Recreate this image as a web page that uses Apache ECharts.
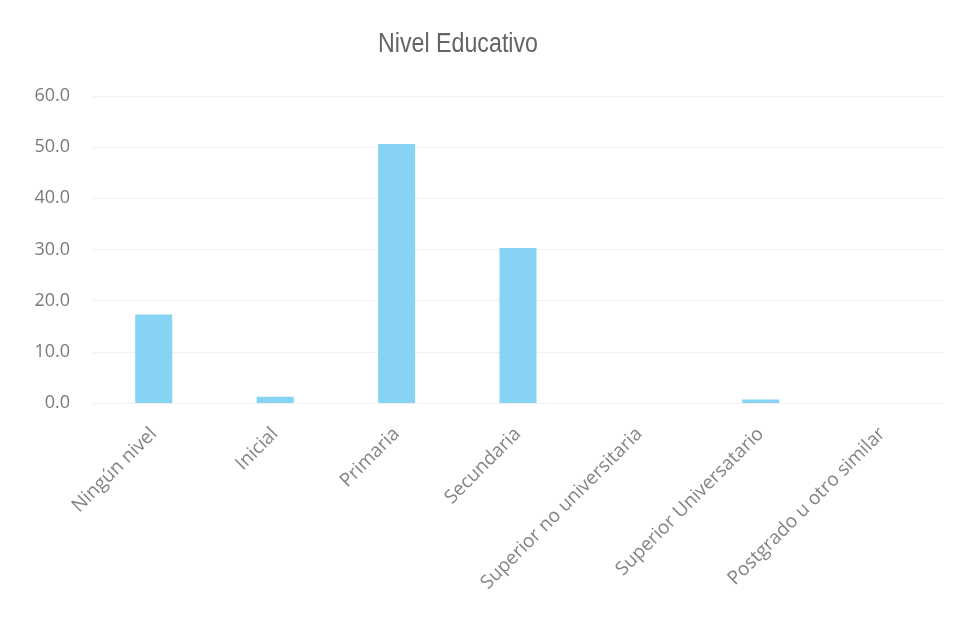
<!DOCTYPE html>
<html>
<head>
<meta charset="utf-8">
<script src="https://cdn.jsdelivr.net/npm/echarts@6/dist/echarts.min.js"></script>
<style>
  html, body { margin: 0; padding: 0; background: #ffffff; }
  #chart { width: 961px; height: 629px; }
</style>
</head>
<body>
<div id="chart"></div>
<script>
// Nivel educativo: porcentaje por categoría
const categories = [
  'Ningún nivel',
  'Inicial',
  'Primaria',
  'Secundaria',
  'Superior no universitaria',
  'Superior Universatario',
  'Postgrado u otro similar'
];
const values = [17.3, 1.2, 50.6, 30.3, 0.0, 0.7, 0.0];
const yTicks = { min: 0, max: 60, interval: 10 };
const titleText = 'Nivel Educativo';

const chart = echarts.init(document.getElementById('chart'), null, { renderer: 'canvas' });

chart.setOption({
  animation: false,
  backgroundColor: '#ffffff',
  // title drawn as a condensed text element
  graphic: [{
    type: 'text',
    x: 458,
    y: 31,
    scaleX: 0.86,
    style: {
      text: titleText,
      fontFamily: '"Liberation Sans", Arial, sans-serif',
      fontSize: 27,
      fill: '#646464',
      textAlign: 'center',
      textVerticalAlign: 'top'
    }
  }],
  grid: { left: 93, right: 18, top: 96, bottom: 226 },
  xAxis: {
    type: 'category',
    data: categories,
    axisLine: { show: false },
    axisTick: { show: false },
    axisLabel: {
      interval: 0,
      rotate: 45,
      margin: 28,
      color: '#848484',
      fontSize: 19,
      fontFamily: '"Open Sans", "Noto Sans", sans-serif'
    }
  },
  yAxis: {
    type: 'value',
    min: yTicks.min,
    max: yTicks.max,
    interval: yTicks.interval,
    axisLine: { show: false },
    axisTick: { show: false },
    axisLabel: {
      margin: 23,
      color: '#7a7a7a',
      fontSize: 18,
      fontFamily: '"Open Sans", "Noto Sans", sans-serif',
      formatter: v => v.toFixed(1)
    },
    splitLine: { lineStyle: { color: '#f0f0f0', width: 1 } }
  },
  series: [{
    type: 'bar',
    data: values,
    barWidth: 37,
    itemStyle: { color: '#87d3f3' }
  }]
});
</script>
</body>
</html>
